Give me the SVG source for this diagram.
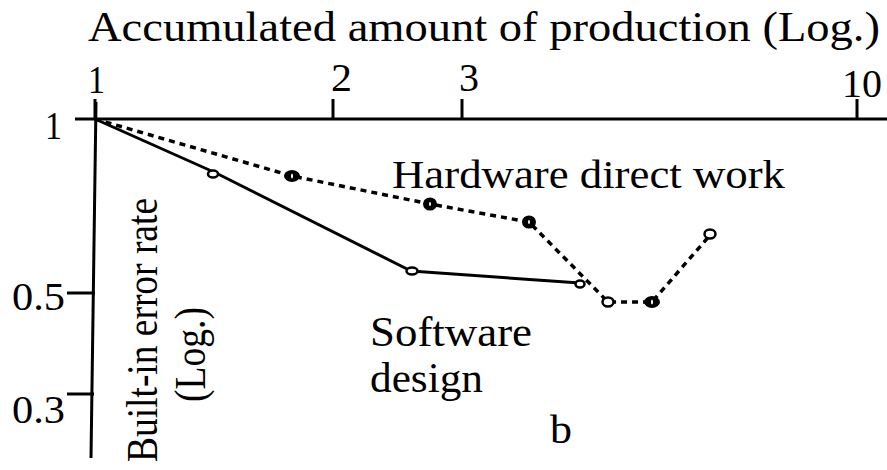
<svg xmlns="http://www.w3.org/2000/svg" width="887" height="470" viewBox="0 0 887 470">
  <style>
    text { font-family: "Liberation Serif", "Times New Roman", serif; fill: #000; }
    .axis { stroke: #000; stroke-width: 3; fill: none; }
    .solid { stroke: #000; stroke-width: 3; fill: none; stroke-linejoin: round; }
    .dash { stroke: #000; stroke-width: 3.5; fill: none; stroke-dasharray: 6 5; }
    .open { fill: #fff; stroke: #000; stroke-width: 2.5; }
    .filled { fill: #000; stroke: #000; stroke-width: 2; }
    .hole { fill: #fff; }
  </style>
  <rect width="887" height="470" fill="#fff"/>

  <!-- axes and ticks -->
  <g id="axes">
    <line class="axis" x1="75" y1="119" x2="887" y2="119"/>
    <line class="axis" x1="96" y1="102" x2="91" y2="458"/>
    <line class="axis" x1="95" y1="99" x2="95" y2="119"/>
    <line class="axis" x1="333" y1="99" x2="333" y2="119"/>
    <line class="axis" x1="462" y1="99" x2="462" y2="119"/>
    <line class="axis" x1="857" y1="99" x2="857" y2="119"/>
    <line class="axis" x1="67" y1="293" x2="95" y2="293"/>
    <line class="axis" x1="67" y1="394" x2="94" y2="394"/>
  </g>

  <!-- axis labels -->
  <g id="x-title">
    <text x="88" y="41" font-size="42" textLength="792" lengthAdjust="spacingAndGlyphs">Accumulated amount  of production  (Log.)</text>
  </g>
  <g id="x-ticks" font-size="40">
    <text x="88" y="93" textLength="17" lengthAdjust="spacingAndGlyphs">1</text>
    <text x="331" y="91" textLength="21" lengthAdjust="spacingAndGlyphs">2</text>
    <text x="459" y="91" textLength="20" lengthAdjust="spacingAndGlyphs">3</text>
    <text x="842" y="97" textLength="40" lengthAdjust="spacingAndGlyphs">10</text>
  </g>
  <g id="y-ticks" font-size="40">
    <text x="45" y="139" textLength="17" lengthAdjust="spacingAndGlyphs">1</text>
    <text x="12" y="310" textLength="53" lengthAdjust="spacingAndGlyphs">0.5</text>
    <text x="12" y="423" textLength="53" lengthAdjust="spacingAndGlyphs">0.3</text>
  </g>
  <g id="y-title" font-size="45">
    <text transform="translate(157,462) rotate(-90)" textLength="264" lengthAdjust="spacingAndGlyphs">Built-in error rate</text>
    <text transform="translate(205,402) rotate(-90)" textLength="95" lengthAdjust="spacingAndGlyphs">(Log.)</text>
  </g>

  <!-- series curves -->
  <g id="connectors">
    <polyline class="solid" points="95,119 216,173 411,271 580,283"/>
    <polyline class="dash" points="95,119 292,176 430,204 529,222 608,302 652,302 711,234"/>
  </g>

  <!-- software design points -->
  <g id="software-design">
    <ellipse class="open" cx="213" cy="174" rx="5" ry="3.5"/>
    <ellipse class="open" cx="412" cy="271" rx="5.5" ry="3.5"/>
    <ellipse class="open" cx="580" cy="284" rx="4.5" ry="3.5"/>
    <text x="370" y="346" font-size="42" textLength="162" lengthAdjust="spacingAndGlyphs">Software</text>
    <text x="370" y="392" font-size="42" textLength="113" lengthAdjust="spacingAndGlyphs">design</text>
  </g>

  <!-- hardware direct work points -->
  <g id="hardware-direct-work">
    <ellipse class="filled" cx="292" cy="176" rx="7" ry="5"/>
    <ellipse class="hole" cx="292" cy="176" rx="1" ry="2.5"/>
    <ellipse class="filled" cx="430" cy="204" rx="6" ry="5.5"/>
    <ellipse class="hole" cx="430" cy="204" rx="1" ry="2"/>
    <ellipse class="filled" cx="529" cy="222" rx="6" ry="5.5"/>
    <ellipse class="hole" cx="529" cy="222" rx="1" ry="2"/>
    <ellipse class="open" cx="608" cy="302" rx="5.5" ry="4.5"/>
    <ellipse class="filled" cx="652" cy="302" rx="7" ry="5"/>
    <ellipse class="hole" cx="652" cy="302" rx="1" ry="2.5"/>
    <ellipse class="open" cx="710" cy="234" rx="5.5" ry="4.5"/>
    <text x="392" y="188" font-size="40" textLength="393" lengthAdjust="spacingAndGlyphs">Hardware direct work</text>
  </g>

  <g id="panel-label">
    <text x="550" y="443" font-size="40" textLength="22" lengthAdjust="spacingAndGlyphs">b</text>
  </g>
</svg>
